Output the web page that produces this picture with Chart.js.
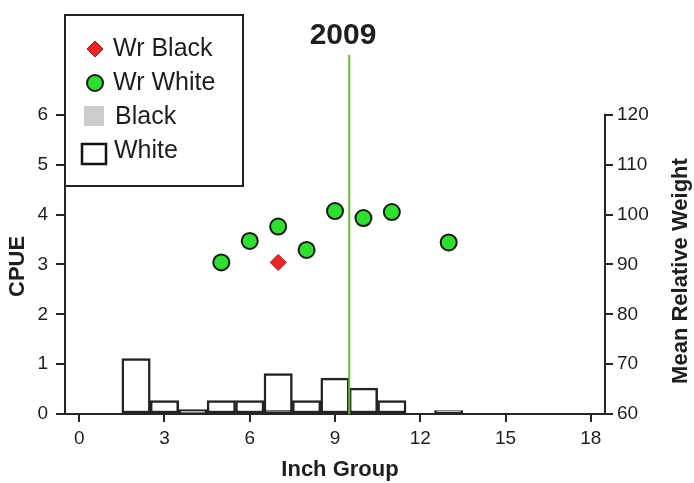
<!DOCTYPE html>
<html>
<head>
<meta charset="utf-8">
<script src="https://cdn.jsdelivr.net/npm/chart.js@4.4.1/dist/chart.umd.min.js"></script>
<style>
  html, body { margin: 0; padding: 0; background: #fff; }
  #wrap { width: 694px; height: 483px; }
</style>
</head>
<body>
<div id="wrap"><canvas id="chart" width="694" height="483"></canvas></div>
<script>
// CPUE by inch group (histogram bars)
const inchGroups = [2, 3, 4, 5, 6, 7, 8, 9, 10, 11, 13];
const whiteCpue = [1.11, 0.27, 0.09, 0.27, 0.27, 0.81, 0.27, 0.72, 0.52, 0.27, 0.07];
const blackGroups = [4, 7];
const blackCpue = [0.04, 0.07];

// mean relative weight by inch group (points, right axis)
const wrWhiteGroups = [5, 6, 7, 8, 9, 10, 11, 13];
const wrWhite = [90.4, 94.7, 97.6, 92.9, 100.7, 99.3, 100.5, 94.4];
const wrBlackGroups = [7];
const wrBlack = [90.4];

const xTicks = [0, 3, 6, 9, 12, 15, 18];
const cpueTicks = [0, 1, 2, 3, 4, 5, 6];
const wrTicks = [60, 70, 80, 90, 100, 110, 120];

const yearLabel = '2009';
const yearLine = 9.5;

const axisColor = '#262626';
const textColor = '#1e1e1e';
const FONT = '"Liberation Sans", Arial, sans-serif';

Chart.defaults.font.family = FONT;
Chart.defaults.color = textColor;

const cpueMax = 7.2;
const wrMin = 60;
const wrMax = wrMin + cpueMax * 10;

function toPoints(xs, ys) {
  return xs.map((x, i) => ({ x: x, y: ys[i] }));
}

// green year marker, right axis line, titles and legend box
const overlay = {
  id: 'overlay',
  afterDatasetsDraw(chart) {
    const ctx = chart.ctx;
    const area = chart.chartArea;
    const x = chart.scales.x.getPixelForValue(yearLine);
    ctx.save();
    ctx.strokeStyle = '#6cb33f';
    ctx.lineWidth = 2;
    ctx.beginPath();
    ctx.moveTo(x, area.top);
    ctx.lineTo(x, area.bottom);
    ctx.stroke();
    ctx.restore();
  },
  afterDraw(chart) {
    const ctx = chart.ctx;
    const y = chart.scales.y;
    const y2 = chart.scales.y2;
    ctx.save();

    // right axis only runs over its tick range
    ctx.strokeStyle = axisColor;
    ctx.lineWidth = 2;
    ctx.beginPath();
    ctx.moveTo(y2.left, y2.getPixelForValue(wrTicks[0]) + 1);
    ctx.lineTo(y2.left, y2.getPixelForValue(wrTicks[wrTicks.length - 1]) - 1);
    ctx.stroke();

    ctx.fillStyle = textColor;
    ctx.textAlign = 'center';
    ctx.textBaseline = 'middle';
    ctx.font = 'bold 30px ' + FONT;
    ctx.fillText(yearLabel, 343, 36);

    ctx.font = 'bold 22px ' + FONT;
    ctx.fillText('Inch Group', 340, 470);

    const midTicks = (y.getPixelForValue(cpueTicks[0]) + y.getPixelForValue(cpueTicks[cpueTicks.length - 1])) / 2;
    ctx.save();
    ctx.translate(18, midTicks + 2);
    ctx.rotate(-Math.PI / 2);
    ctx.fillText('CPUE', 0, 0);
    ctx.restore();

    ctx.save();
    ctx.translate(681, 271);
    ctx.rotate(-Math.PI / 2);
    ctx.fillText('Mean Relative Weight', 0, 0);
    ctx.restore();

    // legend
    ctx.fillStyle = '#fff';
    ctx.fillRect(65, 15, 178, 171);
    ctx.strokeStyle = '#222';
    ctx.lineWidth = 2;
    ctx.strokeRect(65, 15, 178, 171);

    ctx.fillStyle = '#ee2424';
    ctx.strokeStyle = '#a81818';
    ctx.lineWidth = 1;
    ctx.beginPath();
    ctx.moveTo(95, 41); ctx.lineTo(103, 49); ctx.lineTo(95, 57); ctx.lineTo(87, 49);
    ctx.closePath();
    ctx.fill();
    ctx.stroke();

    ctx.fillStyle = '#2ee02e';
    ctx.strokeStyle = '#1a1a1a';
    ctx.lineWidth = 2;
    ctx.beginPath();
    ctx.arc(95, 83, 8, 0, Math.PI * 2);
    ctx.fill();
    ctx.stroke();

    ctx.fillStyle = '#cccccc';
    ctx.fillRect(84, 106, 20, 20);

    ctx.fillStyle = '#fff';
    ctx.fillRect(82, 144, 24, 20);
    ctx.strokeStyle = '#111';
    ctx.lineWidth = 2.5;
    ctx.strokeRect(82, 144, 24, 20);

    ctx.fillStyle = textColor;
    ctx.textAlign = 'left';
    ctx.font = '25px ' + FONT;
    ctx.fillText('Wr Black', 113, 49);
    ctx.fillText('Wr White', 113, 83);
    ctx.fillText('Black', 115, 117);
    ctx.fillText('White', 114, 151);
    ctx.restore();
  }
};

const ctx = document.getElementById('chart').getContext('2d');

new Chart(ctx, {
  type: 'bar',
  data: {
    datasets: [
      {
        type: 'scatter',
        label: 'Wr Black',
        data: toPoints(wrBlackGroups, wrBlack),
        yAxisID: 'y2',
        pointStyle: 'rectRot',
        pointRadius: 8,
        backgroundColor: '#ee2424',
        borderColor: '#a81818',
        borderWidth: 1,
        order: 0
      },
      {
        type: 'scatter',
        label: 'Wr White',
        data: toPoints(wrWhiteGroups, wrWhite),
        yAxisID: 'y2',
        pointStyle: 'circle',
        pointRadius: 8,
        backgroundColor: '#2ee02e',
        borderColor: '#1a1a1a',
        borderWidth: 2,
        order: 1
      },
      {
        label: 'Black',
        data: toPoints(blackGroups, blackCpue),
        yAxisID: 'y',
        backgroundColor: '#cccccc',
        borderColor: '#222222',
        borderWidth: 2.5,
        borderSkipped: false,
        grouped: false,
        barPercentage: 1,
        categoryPercentage: 1,
        order: 2
      },
      {
        label: 'White',
        data: toPoints(inchGroups, whiteCpue),
        yAxisID: 'y',
        backgroundColor: '#ffffff',
        borderColor: '#222222',
        borderWidth: 2.5,
        borderSkipped: false,
        grouped: false,
        barPercentage: 1,
        categoryPercentage: 1,
        order: 3
      }
    ]
  },
  options: {
    responsive: false,
    animation: false,
    devicePixelRatio: 1,
    layout: { padding: { top: 55, left: 0, right: 0, bottom: 0 } },
    plugins: {
      legend: { display: false },
      tooltip: { enabled: false }
    },
    scales: {
      x: {
        type: 'linear',
        min: -0.5,
        max: 18.5,
        offset: false,
        afterBuildTicks: (scale) => { scale.ticks = xTicks.map(v => ({ value: v })); },
        afterFit: (scale) => { scale.height = 69; },
        grid: { drawOnChartArea: false, offset: false, color: axisColor, lineWidth: 2, tickLength: 8 },
        border: { color: axisColor, width: 2 },
        ticks: { font: { size: 19 }, color: textColor, padding: 5, maxRotation: 0, autoSkip: false }
      },
      y: {
        position: 'left',
        min: 0,
        max: cpueMax,
        afterBuildTicks: (scale) => { scale.ticks = cpueTicks.map(v => ({ value: v })); },
        afterFit: (scale) => { scale.width = 65; },
        grid: { drawOnChartArea: false, color: axisColor, lineWidth: 2, tickLength: 9 },
        border: { color: axisColor, width: 2 },
        ticks: { font: { size: 19 }, color: textColor, padding: 8 }
      },
      y2: {
        position: 'right',
        min: wrMin,
        max: wrMax,
        afterBuildTicks: (scale) => { scale.ticks = wrTicks.map(v => ({ value: v })); },
        afterFit: (scale) => { scale.width = 89; },
        grid: { drawOnChartArea: false, color: axisColor, lineWidth: 2, tickLength: 8 },
        border: { display: false },
        ticks: { font: { size: 19 }, color: textColor, padding: 4 }
      }
    }
  },
  plugins: [overlay]
});
</script>
</body>
</html>
